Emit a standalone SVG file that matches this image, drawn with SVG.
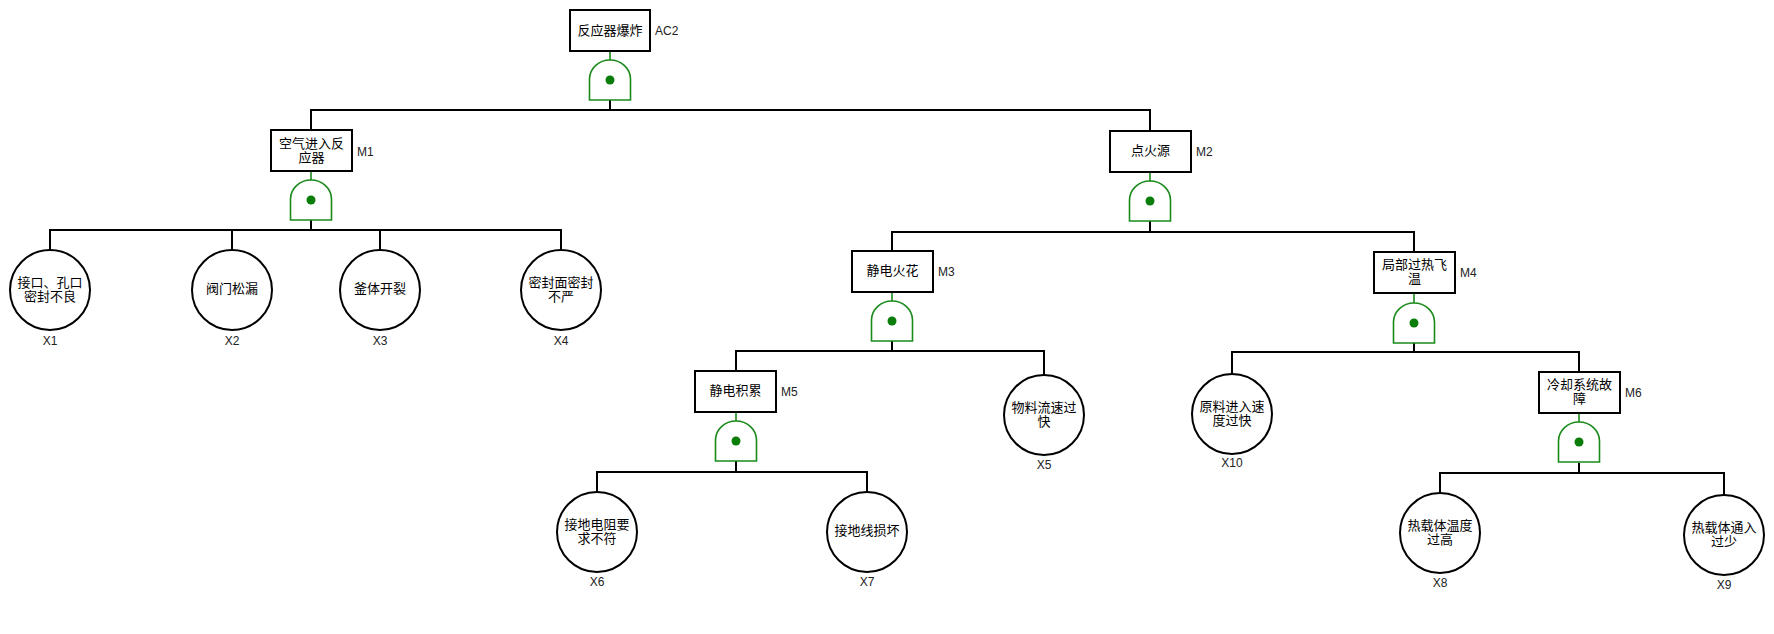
<svg xmlns="http://www.w3.org/2000/svg" xmlns:xlink="http://www.w3.org/1999/xlink" width="1774" height="634" viewBox="0 0 1774 634">
<style>
.box{fill:#fff;stroke:#000;stroke-width:2}
.evt{fill:#fff;stroke:#000;stroke-width:2}
.t{font-family:"Liberation Sans","Noto Sans CJK SC",sans-serif;font-size:13px;fill:#000;text-anchor:middle}
.lbl{font-family:"Liberation Sans","Noto Sans",sans-serif;font-size:12px;fill:#222}
.lblc{font-family:"Liberation Sans","Noto Sans",sans-serif;font-size:12px;fill:#222;text-anchor:middle}
.wire{stroke:#000;stroke-width:2;fill:none}
.gwire{stroke:#1a8a1a;stroke-width:1.6;fill:none}
.gate{fill:#fff;stroke:#1a8a1a;stroke-width:1.6}
.dot{fill:#0a7d0a}
</style>
<defs>
<g id="andGate">
<path class="gate" d="M-20.5,40 V19 A20.5 19 0 0 1 20.5,19 V40 Z"/>
<circle class="dot" cx="0" cy="20" r="4.5"/>
</g>
</defs>
<rect width="1774" height="634" fill="#fff"/>

<g id="connectors">
<line class="gwire" x1="610" y1="51" x2="610" y2="60"/>
<polyline class="wire" points="610,100 610,110"/>
<polyline class="wire" points="311,130 311,110 1150,110 1150,131"/>
<line class="gwire" x1="311" y1="171" x2="311" y2="180"/>
<polyline class="wire" points="311,220 311,230"/>
<polyline class="wire" points="50,250 50,230 561,230 561,250"/>
<line class="wire" x1="232" y1="230" x2="232" y2="250"/>
<line class="wire" x1="380" y1="230" x2="380" y2="250"/>
<line class="gwire" x1="1150" y1="172" x2="1150" y2="181"/>
<polyline class="wire" points="1150,221 1150,232"/>
<polyline class="wire" points="892,251 892,232 1414,232 1414,252"/>
<line class="gwire" x1="892" y1="292" x2="892" y2="301"/>
<polyline class="wire" points="892,341 892,351"/>
<polyline class="wire" points="736,371 736,351 1044,351 1044,375"/>
<line class="gwire" x1="1414" y1="293" x2="1414" y2="303"/>
<polyline class="wire" points="1414,343 1414,352"/>
<polyline class="wire" points="1232,374 1232,352 1579,352 1579,372"/>
<line class="gwire" x1="736" y1="412" x2="736" y2="421"/>
<polyline class="wire" points="736,461 736,472"/>
<polyline class="wire" points="597,492 597,472 867,472 867,492"/>
<line class="gwire" x1="1579" y1="413" x2="1579" y2="422"/>
<polyline class="wire" points="1579,463 1579,473"/>
<polyline class="wire" points="1440,493 1440,473 1724,473 1724,495"/>
</g>

<g id="AC2">
<rect class="box" x="570" y="10" width="80" height="41"/>
<text class="t" x="610" y="35">反应器爆炸</text>
<text class="lbl" x="655" y="35">AC2</text>
<use xlink:href="#andGate" x="610" y="60"/>
</g>

<g id="M1">
<rect class="box" x="271" y="130" width="81" height="41"/>
<text class="t" x="311.5" y="147.5">空气进入反<tspan x="311.5" dy="14.5">应器</tspan></text>
<text class="lbl" x="357" y="156">M1</text>
<use xlink:href="#andGate" x="311" y="180"/>
</g>

<g id="M2">
<rect class="box" x="1110" y="131" width="81" height="41"/>
<text class="t" x="1150.5" y="155">点火源</text>
<text class="lbl" x="1196" y="156">M2</text>
<use xlink:href="#andGate" x="1150" y="181"/>
</g>

<g id="M3">
<rect class="box" x="852" y="251" width="81" height="41"/>
<text class="t" x="892.5" y="275">静电火花</text>
<text class="lbl" x="938" y="276">M3</text>
<use xlink:href="#andGate" x="892" y="301"/>
</g>

<g id="M4">
<rect class="box" x="1374" y="252" width="81" height="41"/>
<text class="t" x="1414.5" y="268.5">局部过热飞<tspan x="1414.5" dy="14.5">温</tspan></text>
<text class="lbl" x="1460" y="277">M4</text>
<use xlink:href="#andGate" x="1414" y="303"/>
</g>

<g id="M5">
<rect class="box" x="695" y="371" width="81" height="41"/>
<text class="t" x="735.5" y="395">静电积累</text>
<text class="lbl" x="781" y="396">M5</text>
<use xlink:href="#andGate" x="736" y="421"/>
</g>

<g id="M6">
<rect class="box" x="1539" y="372" width="81" height="41"/>
<text class="t" x="1579.5" y="388.5">冷却系统故<tspan x="1579.5" dy="14.5">障</tspan></text>
<text class="lbl" x="1625" y="397">M6</text>
<use xlink:href="#andGate" x="1579" y="422"/>
</g>

<g id="X1">
<circle class="evt" cx="50" cy="290" r="40"/>
<text class="t" x="50" y="286.5">接口、孔口<tspan x="50" dy="14.5">密封不良</tspan></text>
<text class="lblc" x="50" y="345">X1</text>
</g>
<g id="X2">
<circle class="evt" cx="232" cy="290" r="40"/>
<text class="t" x="232" y="293">阀门松漏</text>
<text class="lblc" x="232" y="345">X2</text>
</g>
<g id="X3">
<circle class="evt" cx="380" cy="290" r="40"/>
<text class="t" x="380" y="293">釜体开裂</text>
<text class="lblc" x="380" y="345">X3</text>
</g>
<g id="X4">
<circle class="evt" cx="561" cy="290" r="40"/>
<text class="t" x="561" y="286.5">密封面密封<tspan x="561" dy="14.5">不严</tspan></text>
<text class="lblc" x="561" y="345">X4</text>
</g>
<g id="X5">
<circle class="evt" cx="1044" cy="415" r="40"/>
<text class="t" x="1044" y="411.5">物料流速过<tspan x="1044" dy="14.5">快</tspan></text>
<text class="lblc" x="1044" y="469">X5</text>
</g>
<g id="X10">
<circle class="evt" cx="1232" cy="414" r="40"/>
<text class="t" x="1232" y="410.5">原料进入速<tspan x="1232" dy="14.5">度过快</tspan></text>
<text class="lblc" x="1232" y="467">X10</text>
</g>
<g id="X6">
<circle class="evt" cx="597" cy="532" r="40"/>
<text class="t" x="597" y="528.5">接地电阻要<tspan x="597" dy="14.5">求不符</tspan></text>
<text class="lblc" x="597" y="586">X6</text>
</g>
<g id="X7">
<circle class="evt" cx="867" cy="532" r="40"/>
<text class="t" x="867" y="535">接地线损坏</text>
<text class="lblc" x="867" y="586">X7</text>
</g>
<g id="X8">
<circle class="evt" cx="1440" cy="533" r="40"/>
<text class="t" x="1440" y="529.5">热载体温度<tspan x="1440" dy="14.5">过高</tspan></text>
<text class="lblc" x="1440" y="587">X8</text>
</g>
<g id="X9">
<circle class="evt" cx="1724" cy="535" r="40"/>
<text class="t" x="1724" y="531.5">热载体通入<tspan x="1724" dy="14.5">过少</tspan></text>
<text class="lblc" x="1724" y="589">X9</text>
</g>
</svg>
